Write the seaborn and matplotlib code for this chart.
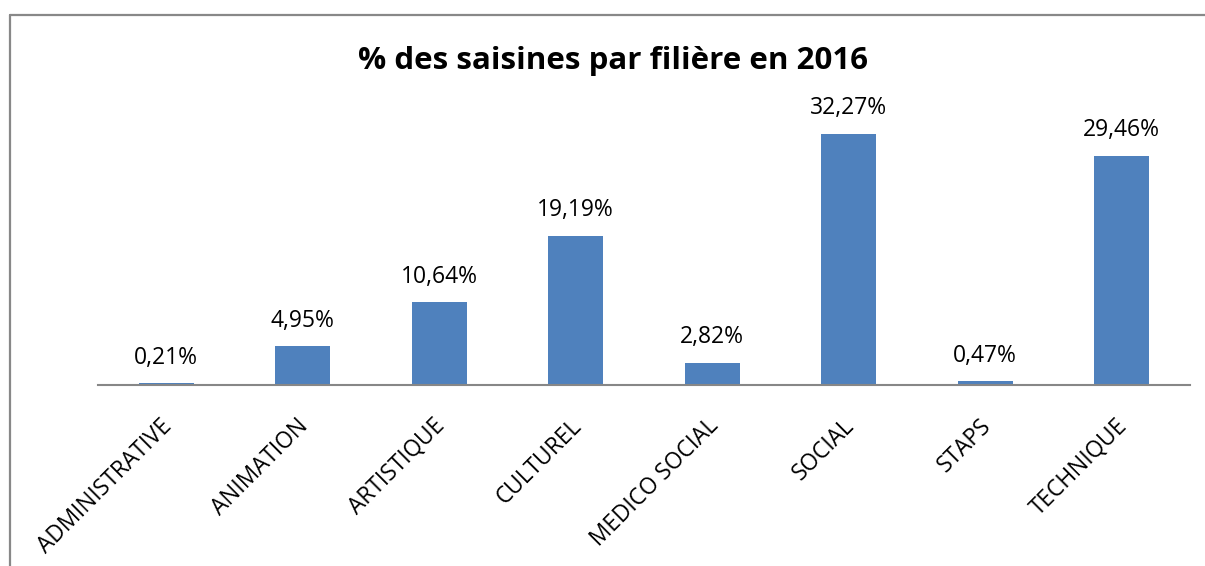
import matplotlib
matplotlib.use("Agg")
import matplotlib.pyplot as plt
import matplotlib.transforms as mtransforms
import seaborn as sns
import pandas as pd
from matplotlib.lines import Line2D

# Données
filieres = ["ADMINISTRATIVE", "ANIMATION", "ARTISTIQUE", "CULTUREL",
            "MEDICO SOCIAL", "SOCIAL", "STAPS", "TECHNIQUE"]
pourcentages = [0.21, 4.95, 10.64, 19.19, 2.82, 32.27, 0.47, 29.46]
titre = "% des saisines par filière en 2016"

df = pd.DataFrame({"filiere": filieres, "pct": pourcentages})

sns.set_theme(style="white")
plt.rcParams['font.family'] = ['Open Sans', 'DejaVu Sans']

fig = plt.figure(figsize=(12.05, 5.66), dpi=100)
ax = fig.add_axes([98 / 1205, 1 - 385 / 566, (1190 - 98) / 1205, 285 / 566])

sns.barplot(data=df, x="filiere", y="pct", color="#4F81BD", saturation=1,
            width=0.4, ax=ax, edgecolor="none")

ax.set_xlim(-0.5, len(filieres) - 0.5)
ax.set_ylim(0, 36.6)

# étiquettes de valeurs
for i, v in enumerate(pourcentages):
    ax.text(i, v + 1.75, f"{v:.2f}%".replace(".", ","), ha="center", va="bottom",
            fontsize=16.5, color="#000000")

ax.set_xlabel("")
ax.set_ylabel("")
ax.set_yticks([])
for s in ["top", "right", "left"]:
    ax.spines[s].set_visible(False)
ax.spines["bottom"].set_color("#878787")
ax.spines["bottom"].set_linewidth(1.5)
ax.tick_params(axis="x", length=0, pad=21)
plt.setp(ax.get_xticklabels(), rotation=45, ha="right", rotation_mode="anchor",
         fontsize=16.3, color="#000000")
# petit décalage à gauche des étiquettes
decalage = mtransforms.ScaledTranslation(-6 / 100, 0, fig.dpi_scale_trans)
for lab in ax.get_xticklabels():
    lab.set_transform(lab.get_transform() + decalage)

fig.text(613 / 1205, 1 - 61 / 566, titre, ha="center", va="center",
         fontsize=22.5, fontweight="bold", color="#000000")

# cadre partiel (haut et gauche)
fig.add_artist(Line2D([10 / 1205, 1], [1 - 15 / 566, 1 - 15 / 566],
                      color="#888888", linewidth=1.6, transform=fig.transFigure))
fig.add_artist(Line2D([10 / 1205, 10 / 1205], [0, 1 - 15 / 566],
                      color="#888888", linewidth=1.6, transform=fig.transFigure))

fig.savefig("out.png", dpi=100)
